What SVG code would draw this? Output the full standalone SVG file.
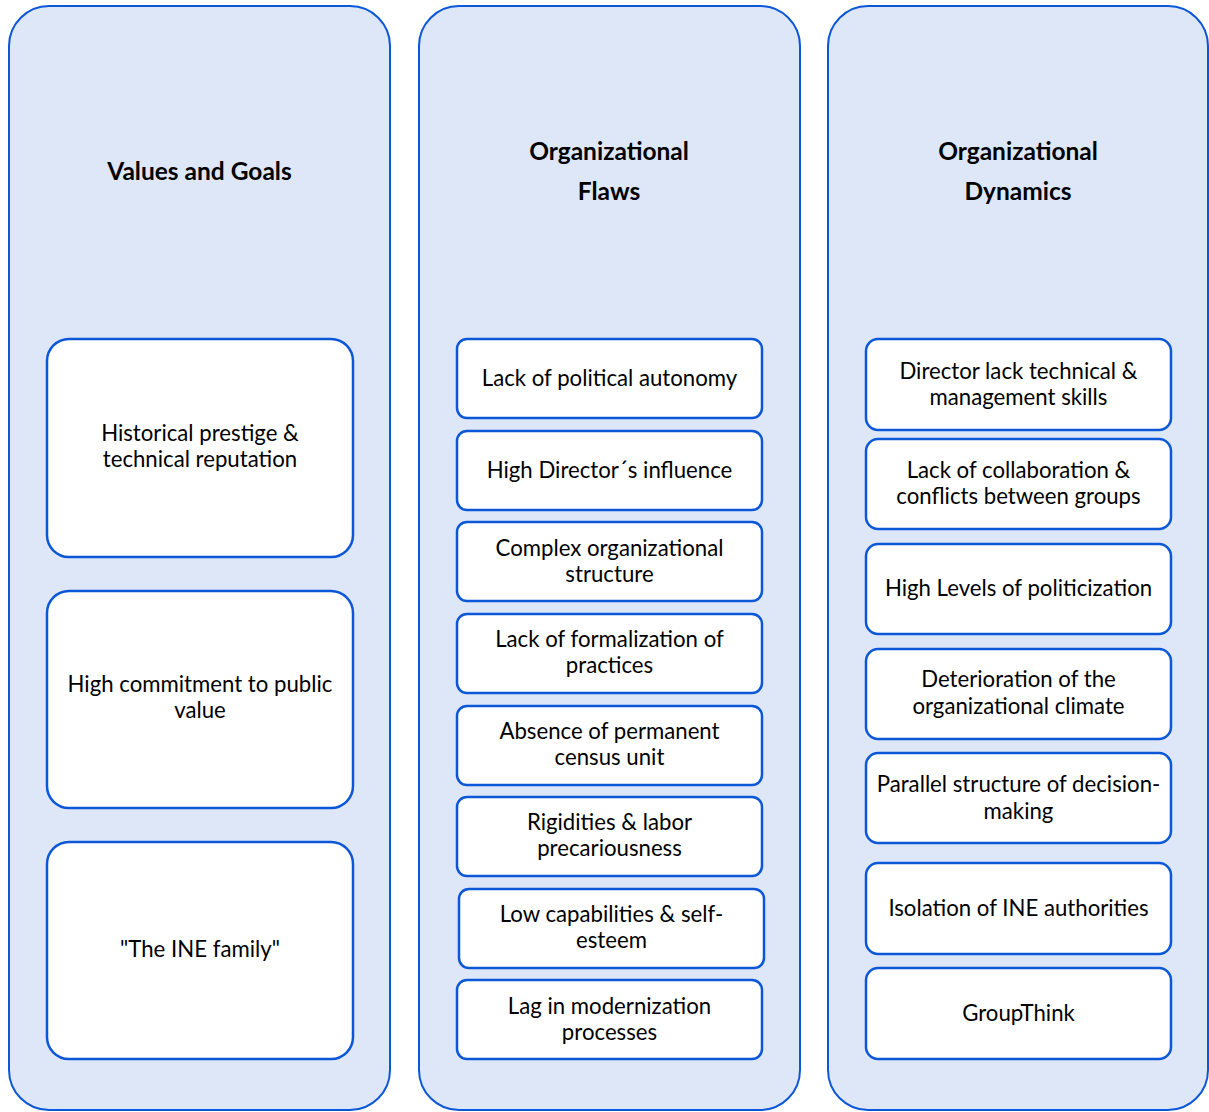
<svg xmlns="http://www.w3.org/2000/svg" width="1209" height="1112" viewBox="0 0 1209 1112">
  <style>
    .col { fill: #dee7f8; stroke: #0b57d8; stroke-width: 2; }
    .box { fill: #ffffff; stroke: #0b57d8; stroke-width: 2.5; }
    .title { font-family: Lato, "Liberation Sans", sans-serif; font-weight: bold; font-size: 24.5px; fill: #000; text-anchor: middle; }
    .lbl { font-family: Lato, "Liberation Sans", sans-serif; font-size: 22.2px; fill: #000; text-anchor: middle; }
  </style>
  <rect width="1209" height="1112" fill="#ffffff"/>

  <!-- column panels -->
  <g id="col-values">
    <rect class="col" x="9" y="6" width="381" height="1104" rx="40"/>
    <text class="title" x="199.5" y="180">Values and Goals</text>
  </g>
  <g id="col-flaws">
    <rect class="col" x="419" y="6" width="381" height="1104" rx="40"/>
    <text class="title" x="609" y="160">Organizational</text>
    <text class="title" x="609" y="200">Flaws</text>
  </g>
  <g id="col-dynamics">
    <rect class="col" x="828" y="6" width="380" height="1104" rx="40"/>
    <text class="title" x="1018" y="160">Organizational</text>
    <text class="title" x="1018" y="200">Dynamics</text>
  </g>

  <!-- values and goals -->
  <g id="v1">
    <rect class="box" x="47" y="339" width="306" height="218" rx="22"/>
    <text class="lbl" x="200" y="441">Historical prestige &amp;</text>
    <text class="lbl" x="200" y="467">technical reputation</text>
  </g>
  <g id="v2">
    <rect class="box" x="47" y="591" width="306" height="217" rx="22"/>
    <text class="lbl" x="200" y="692">High commitment to public</text>
    <text class="lbl" x="200" y="718">value</text>
  </g>
  <g id="v3">
    <rect class="box" x="47" y="842" width="306" height="217" rx="22"/>
    <text class="lbl" x="200" y="957">"The INE family"</text>
  </g>

  <!-- organizational flaws -->
  <g id="f1">
    <rect class="box" x="457" y="339" width="305" height="79" rx="10"/>
    <text class="lbl" x="609.5" y="386">Lack of political autonomy</text>
  </g>
  <g id="f2">
    <rect class="box" x="457" y="431" width="305" height="79" rx="10"/>
    <text class="lbl" x="609.5" y="478">High Director´s influence</text>
  </g>
  <g id="f3">
    <rect class="box" x="457" y="522" width="305" height="79" rx="10"/>
    <text class="lbl" x="609.5" y="556">Complex organizational</text>
    <text class="lbl" x="609.5" y="582">structure</text>
  </g>
  <g id="f4">
    <rect class="box" x="457" y="614" width="305" height="79" rx="10"/>
    <text class="lbl" x="609.5" y="647">Lack of formalization of</text>
    <text class="lbl" x="609.5" y="673">practices</text>
  </g>
  <g id="f5">
    <rect class="box" x="457" y="706" width="305" height="79" rx="10"/>
    <text class="lbl" x="609.5" y="739">Absence of permanent</text>
    <text class="lbl" x="609.5" y="765">census unit</text>
  </g>
  <g id="f6">
    <rect class="box" x="457" y="797" width="305" height="79" rx="10"/>
    <text class="lbl" x="609.5" y="830">Rigidities &amp; labor</text>
    <text class="lbl" x="609.5" y="856">precariousness</text>
  </g>
  <g id="f7">
    <rect class="box" x="459" y="889" width="305" height="79" rx="10"/>
    <text class="lbl" x="611.5" y="922">Low capabilities &amp; self-</text>
    <text class="lbl" x="611.5" y="948">esteem</text>
  </g>
  <g id="f8">
    <rect class="box" x="457" y="980" width="305" height="79" rx="10"/>
    <text class="lbl" x="609.5" y="1014">Lag in modernization</text>
    <text class="lbl" x="609.5" y="1040">processes</text>
  </g>

  <!-- organizational dynamics -->
  <g id="d1">
    <rect class="box" x="866" y="339" width="305" height="91" rx="12"/>
    <text class="lbl" x="1018.5" y="379">Director lack technical &amp;</text>
    <text class="lbl" x="1018.5" y="405">management skills</text>
  </g>
  <g id="d2">
    <rect class="box" x="866" y="439" width="305" height="90" rx="12"/>
    <text class="lbl" x="1018.5" y="478">Lack of collaboration &amp;</text>
    <text class="lbl" x="1018.5" y="504">conflicts between groups</text>
  </g>
  <g id="d3">
    <rect class="box" x="866" y="544" width="305" height="90" rx="12"/>
    <text class="lbl" x="1018.5" y="596">High Levels of politicization</text>
  </g>
  <g id="d4">
    <rect class="box" x="866" y="649" width="305" height="90" rx="12"/>
    <text class="lbl" x="1018.5" y="687">Deterioration of the</text>
    <text class="lbl" x="1018.5" y="714">organizational climate</text>
  </g>
  <g id="d5">
    <rect class="box" x="866" y="753" width="305" height="90" rx="12"/>
    <text class="lbl" x="1018.5" y="792">Parallel structure of decision-</text>
    <text class="lbl" x="1018.5" y="819">making</text>
  </g>
  <g id="d6">
    <rect class="box" x="866" y="863" width="305" height="91" rx="12"/>
    <text class="lbl" x="1018.5" y="916">Isolation of INE authorities</text>
  </g>
  <g id="d7">
    <rect class="box" x="866" y="968" width="305" height="91" rx="12"/>
    <text class="lbl" x="1018.5" y="1021">GroupThink</text>
  </g>

  <!-- no connectors in this figure -->
  <g id="connectors"/>
</svg>
